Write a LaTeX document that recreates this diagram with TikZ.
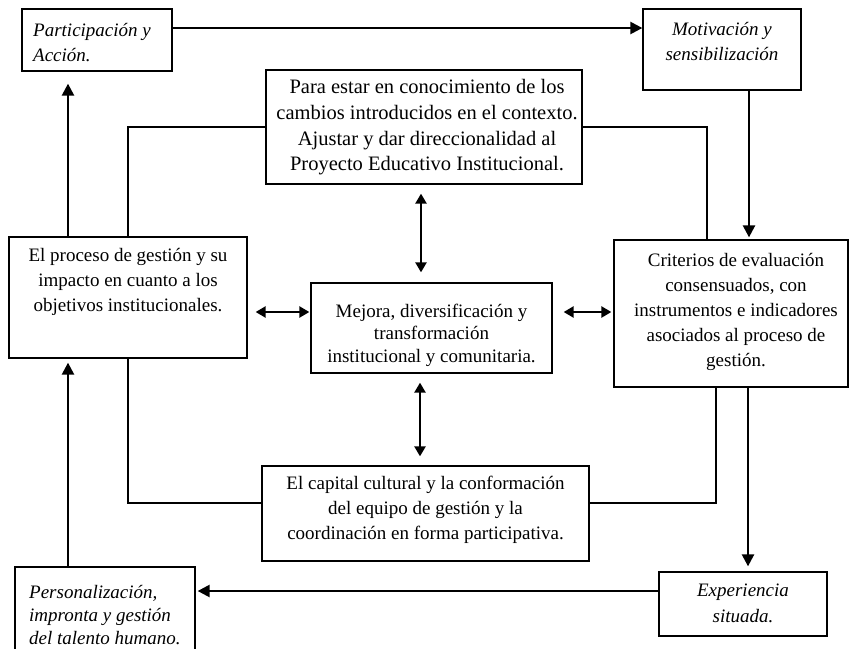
\documentclass[tikz,border=0pt]{standalone}
\usepackage{fontspec}
\setmainfont{Liberation Serif}
\usetikzlibrary{arrows.meta}
\begin{document}
\begin{tikzpicture}[x=1pt,y=-1pt,
  box/.style 2 args={draw, line width=1.3pt, inner sep=0pt, minimum width=#1, minimum height=#2},
  txt/.style={align=center, inner sep=0pt, font=\fontsize{19}{25}\selectfont},
  itxt/.style={inner sep=0pt, font=\fontsize{19}{25}\selectfont\itshape},
  link/.style={line width=1.6pt},
  arr/.style={line width=2.4pt, -{Triangle[length=12pt,width=12pt]}},
  dbl/.style={line width=2.4pt, {Triangle[length=10pt,width=11pt]}-{Triangle[length=10pt,width=11pt]}}]
\useasboundingbox (0,0) rectangle (856,648);

% boxes
\node[box={150pt}{62pt}]  (part)  at (97,40) {};
\node[box={158pt}{81pt}]  (motiv) at (722,49.5) {};
\node[box={316pt}{114pt}] (topb)  at (424,127) {};
\node[box={238pt}{121pt}] (proc)  at (128,297.5) {};
\node[box={234pt}{147pt}] (crit)  at (731,313.5) {};
\node[box={241pt}{90pt}]  (mej)   at (431.5,328) {};
\node[box={327pt}{95pt}]  (capb)  at (425.5,513.5) {};
\node[box={168pt}{64pt}]  (exper) at (743,604) {};
\node[box={180pt}{85pt}]  (pers)  at (105,609.5) {};

% texts
\node[itxt, align=left, anchor=west] (part-t) at (33,42.5) {Participación y\\Acción.};
\node[itxt, align=center] (motiv-t) at (722,41) {Motivación y\\sensibilización};
\node[txt, font=\fontsize{20.5}{25.7}\selectfont] (topb-t) at (427,127.5) {Para estar en conocimiento de los\\cambios introducidos en el contexto.\\Ajustar y dar direccionalidad al\\Proyecto Educativo Institucional.};
\node[txt] (proc-t) at (128,282) {El proceso de gestión y su\\impacto en cuanto a los\\objetivos institucionales.};
\node[txt] (crit-t) at (736,312) {Criterios de evaluación\\consensuados, con\\instrumentos e indicadores\\asociados al proceso de\\gestión.};
\node[txt, font=\fontsize{19}{22.5}\selectfont] (mej-t) at (431.5,335) {Mejora, diversificación y\\transformación\\institucional y comunitaria.};
\node[txt] (capb-t) at (425.5,510) {El capital cultural y la conformación\\del equipo de gestión y la\\coordinación en forma participativa.};
\node[itxt, align=center, font=\fontsize{19}{26}\selectfont\itshape] (exper-t) at (743,603) {Experiencia\\situada.};
\node[itxt, align=left, anchor=west, font=\fontsize{19}{23}\selectfont\itshape] (pers-t) at (29,615) {Personalización,\\impronta y gestión\\del talento humano.};

% outer cycle
\draw[arr] ([yshift=12pt]part.east) -- ([yshift=12pt]part.east -| motiv.west);
\draw[arr, shorten >=2pt] ([xshift=27pt]motiv.south) -- ([xshift=27pt]motiv.south |- crit.north);
\draw[arr, shorten >=5pt] ([xshift=17pt]crit.south) -- ([xshift=17pt]crit.south |- exper.north);
\draw[arr, shorten >=2pt] ([yshift=13pt]exper.west) -- ([yshift=13pt]exper.west -| pers.east);
\draw[arr, shorten >=4pt] ([xshift=-37pt]pers.north) -- ([xshift=-37pt]pers.north |- proc.south);
\draw[arr, shorten >=12pt] ([xshift=-60pt]proc.north) -- ([xshift=-60pt]proc.north |- part.south);

% frame lines joining the inner boxes
\draw[link] (proc.north) |- (topb.west);
\draw[link] (topb.east) -| ([xshift=-24pt]crit.north);
\draw[link] (proc.south) |- ([yshift=10.5pt]capb.west);
\draw[link] ([xshift=-15pt]crit.south) |- ([yshift=10.5pt]capb.east);

% two-way arrows around the centre
\draw[dbl, shorten <=9pt, shorten >=10pt] ([xshift=-3pt]topb.south) -- ([xshift=-3pt]topb.south |- mej.north);
\draw[dbl, shorten <=1pt, shorten >=8pt] ([yshift=16pt]mej.west) -- ([yshift=16pt]mej.west -| proc.east);
\draw[dbl, shorten <=11pt, shorten >=2pt] ([yshift=16pt]mej.east) -- ([yshift=16pt]mej.east -| crit.west);
\draw[dbl, shorten <=9pt, shorten >=9pt] ([xshift=-11.5pt]mej.south) -- ([xshift=-11.5pt]mej.south |- capb.north);
\end{tikzpicture}
\end{document}
